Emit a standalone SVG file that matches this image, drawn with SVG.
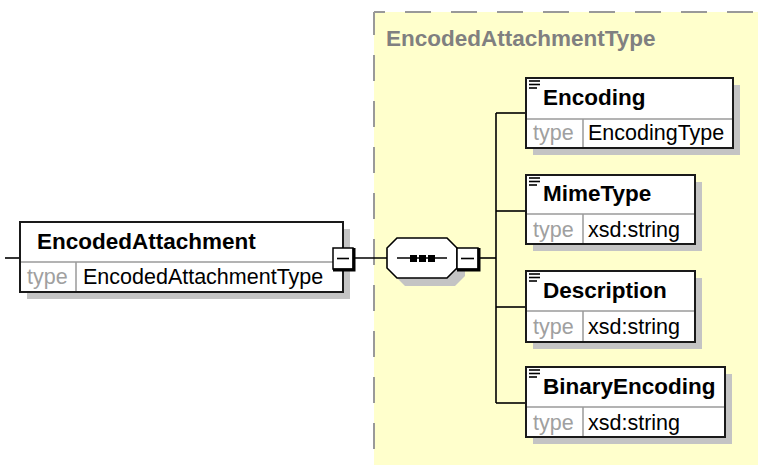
<svg xmlns="http://www.w3.org/2000/svg" width="758" height="465" viewBox="0 0 758 465">
  <style>
    .bg { fill: #ffffff; }
    .cplx { fill: #ffffcc; stroke: none; }
    .dash { stroke: #999999; stroke-width: 2; fill: none; stroke-dasharray: 26 20; }
    .ctitle { font-family: "Liberation Sans", Arial, sans-serif; font-size: 22.5px; font-weight: bold; fill: #808080; }
    .shadow { fill: #c4c4c4; }
    .box { fill: #ffffff; stroke: #1a1a1a; stroke-width: 2; }
    .div { stroke: #9a9a9a; stroke-width: 1.5; }
    .name { font-family: "Liberation Sans", Arial, sans-serif; font-size: 22.5px; font-weight: bold; fill: #000000; }
    .tlabel { font-family: "Liberation Sans", Arial, sans-serif; font-size: 21.5px; fill: #a0a0a0; }
    .tval { font-family: "Liberation Sans", Arial, sans-serif; font-size: 21.5px; fill: #000000; }
    .icon { stroke: #000000; stroke-width: 1.6; }
    .wire { stroke: #000000; stroke-width: 1.6; fill: none; }
    .mbox { fill: #ffffff; stroke: #000000; stroke-width: 1.5; }
    .mshade { stroke: #000000; stroke-width: 3; fill: none; }
  </style>

  <rect class="bg" x="0" y="0" width="758" height="465"/>

  <!-- complex type area -->
  <g id="EncodedAttachmentType">
    <rect class="cplx" x="374" y="12" width="384" height="453"/>
    <line class="dash" x1="374" y1="12" x2="758" y2="12" stroke-dashoffset="15"/>
    <line class="dash" x1="374" y1="12" x2="374" y2="465" stroke-dashoffset="3"/>
    <text class="ctitle" x="386" y="46">EncodedAttachmentType</text>
  </g>

  <!-- connectors -->
  <g id="connectors">
    <line class="wire" x1="5" y1="258" x2="20" y2="258"/>
    <line class="wire" x1="353" y1="258" x2="387" y2="258"/>
    <line class="wire" x1="479" y1="258" x2="496" y2="258"/>
    <line class="wire" x1="496" y1="113" x2="496" y2="403"/>
    <line class="wire" x1="496" y1="113" x2="526" y2="113"/>
    <line class="wire" x1="496" y1="211" x2="526" y2="211"/>
    <line class="wire" x1="496" y1="307" x2="526" y2="307"/>
    <line class="wire" x1="496" y1="403" x2="526" y2="403"/>
  </g>

  <!-- root element -->
  <g id="EncodedAttachment">
    <rect class="shadow" x="27" y="229" width="323" height="70"/>
    <rect class="box" x="20" y="222" width="323" height="70"/>
    <line class="div" x1="21" y1="262" x2="342" y2="262"/>
    <line class="div" x1="76" y1="262" x2="76" y2="291"/>
    <text class="name" x="37" y="249">EncodedAttachment</text>
    <text class="tlabel" x="27" y="284">type</text>
    <text class="tval" x="83" y="284">EncodedAttachmentType</text>
    <rect class="mbox" x="333" y="248" width="20" height="21"/>
    <polyline class="mshade" points="354,248 354,270 333,270"/>
    <line class="wire" x1="337" y1="258.5" x2="349" y2="258.5"/>
  </g>

  <!-- sequence compositor -->
  <g id="sequence">
    <polygon class="shadow" points="405,246 455,246 465,256 465,276 455,286 405,286 395,276 395,256"/>
    <polygon fill="#ffffff" stroke="#000000" stroke-width="1.6" points="397,238 447,238 457,248 457,268 447,278 397,278 387,268 387,248"/>
    <line class="wire" x1="397" y1="258" x2="447" y2="258"/>
    <rect x="410" y="255" width="7" height="7" fill="#000"/>
    <rect x="419" y="255" width="7" height="7" fill="#000"/>
    <rect x="428" y="255" width="7" height="7" fill="#000"/>
    <rect class="mbox" x="457" y="248" width="21" height="21"/>
    <polyline class="mshade" points="479,248 479,270 457,270"/>
    <line class="wire" x1="461" y1="258.5" x2="474" y2="258.5"/>
  </g>

  <!-- child elements -->
  <g id="Encoding">
    <rect class="shadow" x="533" y="85" width="207" height="70"/>
    <rect class="box" x="526" y="78" width="207" height="70"/>
    <line class="div" x1="527" y1="119" x2="732" y2="119"/>
    <line class="div" x1="583" y1="119" x2="583" y2="147"/>
    <line class="icon" x1="529" y1="81" x2="540" y2="81"/>
    <line class="icon" x1="529" y1="84.5" x2="540" y2="84.5"/>
    <line class="icon" x1="529" y1="88" x2="537" y2="88"/>
    <text class="name" x="543" y="105">Encoding</text>
    <text class="tlabel" x="533" y="140">type</text>
    <text class="tval" x="588" y="140">EncodingType</text>
  </g>

  <g id="MimeType">
    <rect class="shadow" x="533" y="182" width="169" height="69"/>
    <rect class="box" x="526" y="175" width="169" height="69"/>
    <line class="div" x1="527" y1="214" x2="694" y2="214"/>
    <line class="div" x1="583" y1="214" x2="583" y2="243"/>
    <line class="icon" x1="529" y1="178" x2="540" y2="178"/>
    <line class="icon" x1="529" y1="181.5" x2="540" y2="181.5"/>
    <line class="icon" x1="529" y1="185" x2="537" y2="185"/>
    <text class="name" x="543" y="201">MimeType</text>
    <text class="tlabel" x="533" y="237">type</text>
    <text class="tval" x="588" y="237">xsd:string</text>
  </g>

  <g id="Description">
    <rect class="shadow" x="533" y="278" width="169" height="71"/>
    <rect class="box" x="526" y="271" width="169" height="71"/>
    <line class="div" x1="527" y1="311" x2="694" y2="311"/>
    <line class="div" x1="583" y1="311" x2="583" y2="341"/>
    <line class="icon" x1="529" y1="274" x2="540" y2="274"/>
    <line class="icon" x1="529" y1="277.5" x2="540" y2="277.5"/>
    <line class="icon" x1="529" y1="281" x2="537" y2="281"/>
    <text class="name" x="543" y="298">Description</text>
    <text class="tlabel" x="533" y="334">type</text>
    <text class="tval" x="588" y="334">xsd:string</text>
  </g>

  <g id="BinaryEncoding">
    <rect class="shadow" x="533" y="374" width="199" height="70"/>
    <rect class="box" x="526" y="367" width="199" height="70"/>
    <line class="div" x1="527" y1="407" x2="724" y2="407"/>
    <line class="div" x1="583" y1="407" x2="583" y2="436"/>
    <line class="icon" x1="529" y1="370" x2="540" y2="370"/>
    <line class="icon" x1="529" y1="373.5" x2="540" y2="373.5"/>
    <line class="icon" x1="529" y1="377" x2="537" y2="377"/>
    <text class="name" x="543" y="394">BinaryEncoding</text>
    <text class="tlabel" x="533" y="430">type</text>
    <text class="tval" x="588" y="430">xsd:string</text>
  </g>
</svg>
